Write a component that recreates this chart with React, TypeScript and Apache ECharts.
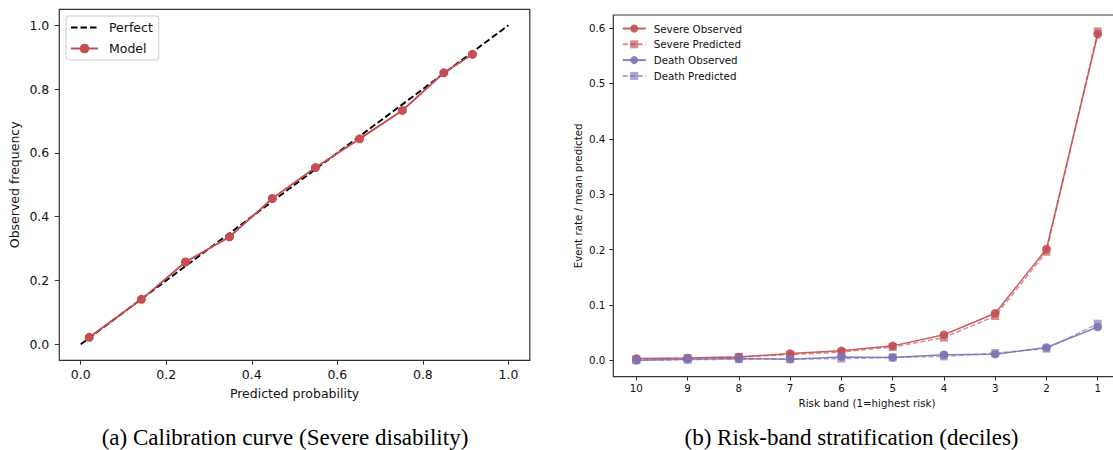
import React, { useEffect, useRef } from "react";
import * as echarts from "echarts";

// ---- Data: calibration curve (Severe disability)
const calibPredicted = [0.020, 0.142, 0.245, 0.348, 0.448, 0.549, 0.652, 0.752, 0.849, 0.916];
const calibObserved = [0.022, 0.141, 0.258, 0.337, 0.457, 0.554, 0.644, 0.733, 0.851, 0.909];
const perfectLine = [0, 1];
const calibTicks = [0, 0.2, 0.4, 0.6, 0.8, 1.0];

// ---- Data: risk-band stratification (deciles), bands 10 .. 1
const riskBands = [10, 9, 8, 7, 6, 5, 4, 3, 2, 1];
const severeObserved = [0.003, 0.004, 0.006, 0.012, 0.017, 0.026, 0.046, 0.085, 0.201, 0.589];
const severePredicted = [0.002, 0.004, 0.006, 0.010, 0.015, 0.024, 0.041, 0.080, 0.196, 0.594];
const deathObserved = [0.000, 0.002, 0.003, 0.002, 0.006, 0.005, 0.010, 0.011, 0.023, 0.060];
const deathPredicted = [0.000, 0.001, 0.002, 0.002, 0.003, 0.005, 0.007, 0.013, 0.021, 0.066];
const rateTicks = [0, 0.1, 0.2, 0.3, 0.4, 0.5, 0.6];

const RED = "#c44e52";
const PURPLE = "#8172b2";
const AX = "#333333";
const TXT = "#111111";
const SANS = "DejaVu Sans";

export default function App() {
  const ref = useRef<HTMLDivElement>(null);

  useEffect(() => {
    if (!ref.current) return;
    const chart = echarts.init(ref.current, null, { renderer: "svg" });

    const pair = (xs: number[], ys: number[]) => xs.map((x, i) => [x, ys[i]]);

    const tickCommon = { show: true, inside: false, length: 4.5, lineStyle: { color: AX, width: 1 } };
    const noLine = { show: false, onZero: false };

    chart.setOption({
      animation: false,
      backgroundColor: "#ffffff",
      grid: [
        { left: 59.3, top: 9.3, width: 470.5, height: 351, show: true, borderColor: AX, borderWidth: 1.2, backgroundColor: "transparent" },
        { left: 613.3, top: 15, width: 507.5, height: 361.7, show: true, borderColor: AX, borderWidth: 1.2, backgroundColor: "transparent" },
      ],
      xAxis: [
        {
          type: "value", gridIndex: 0, min: -0.05, max: 1.05, position: "bottom",
          splitLine: { show: false }, axisLine: noLine,
          axisTick: { ...tickCommon, customValues: calibTicks },
          axisLabel: { customValues: calibTicks, formatter: (v: number) => v.toFixed(1), fontFamily: SANS, fontSize: 12.5, color: TXT, margin: 8 },
          name: "Predicted probability", nameLocation: "middle", nameGap: 27,
          nameTextStyle: { fontFamily: SANS, fontSize: 12.5, color: TXT },
        },
        {
          type: "value", gridIndex: 1, min: 0.55, max: 10.45, inverse: true, position: "bottom",
          splitLine: { show: false }, axisLine: noLine,
          axisTick: { ...tickCommon, length: 4, customValues: riskBands },
          axisLabel: { customValues: riskBands, formatter: (v: number) => String(Math.round(v)), fontFamily: SANS, fontSize: 10.3, color: TXT, margin: 6 },
          name: "Risk band (1=highest risk)", nameLocation: "middle", nameGap: 21,
          nameTextStyle: { fontFamily: SANS, fontSize: 10.3, color: TXT },
        },
      ],
      yAxis: [
        {
          type: "value", gridIndex: 0, min: -0.05, max: 1.05, position: "left",
          splitLine: { show: false }, axisLine: noLine,
          axisTick: { ...tickCommon, customValues: calibTicks },
          axisLabel: { customValues: calibTicks, formatter: (v: number) => v.toFixed(1), fontFamily: SANS, fontSize: 12.5, color: TXT, margin: 10 },
          name: "Observed frequency", nameLocation: "middle", nameGap: 38, nameRotate: 90,
          nameTextStyle: { fontFamily: SANS, fontSize: 12.5, color: TXT },
        },
        {
          type: "value", gridIndex: 1, min: -0.0297, max: 0.6237, position: "left",
          splitLine: { show: false }, axisLine: noLine,
          axisTick: { ...tickCommon, length: 4, customValues: rateTicks },
          axisLabel: { customValues: rateTicks, formatter: (v: number) => v.toFixed(1), fontFamily: SANS, fontSize: 10.3, color: TXT, margin: 8 },
          name: "Event rate / mean predicted", nameLocation: "middle", nameGap: 30, nameRotate: 90,
          nameTextStyle: { fontFamily: SANS, fontSize: 10.3, color: TXT },
        },
      ],
      legend: [
        {
          data: ["Perfect", "Model"],
          orient: "vertical", left: 66, top: 16,
          padding: [5, 6, 5, 4], itemGap: 8, itemWidth: 27, itemHeight: 12,
          borderColor: "#cccccc", borderWidth: 1, borderRadius: 3, backgroundColor: "#ffffff",
          textStyle: { fontFamily: SANS, fontSize: 12.5, color: TXT, padding: [0, 0, 0, 6] },
        },
        {
          data: ["Severe Observed", "Severe Predicted", "Death Observed", "Death Predicted"],
          orient: "vertical", left: 621.7, top: 23.5,
          padding: 0, itemGap: 5.8, itemWidth: 23, itemHeight: 10,
          textStyle: { fontFamily: SANS, fontSize: 10.3, color: TXT, padding: [0, 0, 0, 3] },
        },
      ],
      series: [
        {
          name: "Perfect", type: "line", xAxisIndex: 0, yAxisIndex: 0,
          data: pair(perfectLine, perfectLine), symbol: "none",
          lineStyle: { color: "#000000", width: 1.9, type: [6.5, 3] },
          itemStyle: { color: "#000000", opacity: 0 },
        },
        {
          name: "Model", type: "line", xAxisIndex: 0, yAxisIndex: 0,
          data: pair(calibPredicted, calibObserved), symbol: "circle", symbolSize: 9,
          lineStyle: { color: RED, width: 1.9 }, itemStyle: { color: RED },
        },
        {
          name: "Severe Observed", type: "line", xAxisIndex: 1, yAxisIndex: 1,
          data: pair(riskBands, severeObserved), symbol: "circle", symbolSize: 8.5,
          lineStyle: { color: RED, width: 1.5, opacity: 0.9 }, itemStyle: { color: RED, opacity: 0.9 },
        },
        {
          name: "Severe Predicted", type: "line", xAxisIndex: 1, yAxisIndex: 1,
          data: pair(riskBands, severePredicted), symbol: "rect", symbolSize: 8,
          lineStyle: { color: RED, width: 1.5, opacity: 0.65, type: [5, 2.5] }, itemStyle: { color: RED, opacity: 0.65 },
        },
        {
          name: "Death Observed", type: "line", xAxisIndex: 1, yAxisIndex: 1,
          data: pair(riskBands, deathObserved), symbol: "circle", symbolSize: 8.5,
          lineStyle: { color: PURPLE, width: 1.5, opacity: 0.9 }, itemStyle: { color: PURPLE, opacity: 0.9 },
        },
        {
          name: "Death Predicted", type: "line", xAxisIndex: 1, yAxisIndex: 1,
          data: pair(riskBands, deathPredicted), symbol: "rect", symbolSize: 8,
          lineStyle: { color: PURPLE, width: 1.5, opacity: 0.65, type: [5, 2.5] }, itemStyle: { color: PURPLE, opacity: 0.65 },
        },
      ],
      graphic: [
        {
          type: "text",
          style: { text: "(a) Calibration curve (Severe disability)", x: 285, y: 437, align: "center", verticalAlign: "middle", fontFamily: "Liberation Serif", fontSize: 23, fill: "#000000" },
        },
        {
          type: "text",
          style: { text: "(b) Risk-band stratification (deciles)", x: 851.5, y: 437, align: "center", verticalAlign: "middle", fontFamily: "Liberation Serif", fontSize: 23, fill: "#000000" },
        },
      ],
    });

    return () => chart.dispose();
  }, []);

  return (
    <div style={{ position: "absolute", left: 0, top: 0, width: 1113, height: 450, overflow: "hidden", background: "#fff" }}>
      <div ref={ref} style={{ position: "absolute", left: 0, top: 0, width: 1140, height: 450 }} />
    </div>
  );
}
